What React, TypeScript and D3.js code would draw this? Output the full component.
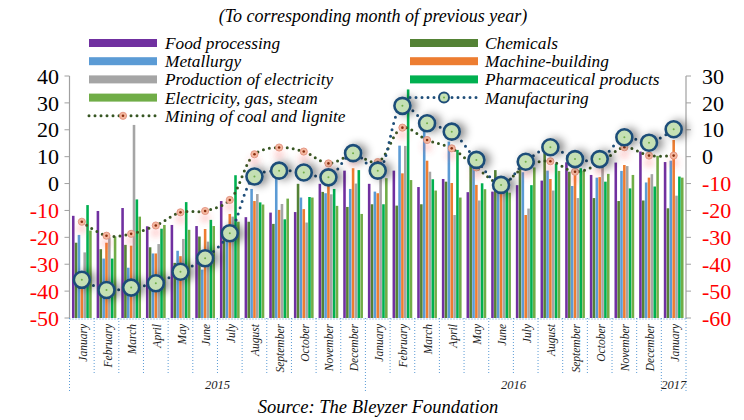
import React, { useEffect, useRef } from 'react';
import * as d3 from 'd3';

const months = [
  'January', 'February', 'March', 'April', 'May', 'June', 'July', 'August',
  'September', 'October', 'November', 'December',
  'January', 'February', 'March', 'April', 'May', 'June', 'July', 'August',
  'September', 'October', 'November', 'December',
  'January',
];
const yearLabels = ['2015', '2016', '2017'];
const yearMonthCounts = [12, 12, 1];

// bar series, left axis (% to corresponding month of previous year)
const foodProcessing = [-12.0, -10.2, -9.1, -15.9, -15.4, -15.8, -6.5, -12.5, -10.8, -10.6, -0.1, 4.8, -0.1, 4.8, -1.3, 1.7, -3.2, -3.0, -0.6, 1.1, 7.9, 3.2, 7.8, 11.9, 8.0];
const chemicals = [-22.0, -24.4, -22.8, -23.7, -29.5, -19.7, -19.0, -14.2, -15.0, -0.1, -3.1, -8.7, -7.7, -8.2, -7.7, 0.7, 8.8, 5.0, 7.5, 11.3, 4.4, -5.4, -6.5, -6.3, -9.2];
const metallurgy = [-19.1, -27.9, -31.3, -26.0, -25.0, -32.0, -17.0, -2.0, 4.0, -5.2, -3.6, -2.0, -3.0, 14.1, 19.3, 15.6, 7.5, -0.5, 4.2, 4.8, -0.9, 2.2, 4.7, 0.4, 8.5];
const machineBuilding = [-34.0, -22.0, -23.1, -26.0, -27.0, -16.9, -11.3, -6.5, -9.8, -9.5, 2.4, 5.7, -3.6, 3.8, 8.5, 0.2, -0.5, -1.8, -11.7, 1.7, 5.0, 2.4, 6.9, 2.2, 16.2];
const productionOfElectricity = [-25.6, -20.0, 21.8, -22.5, -20.6, -21.6, -12.3, -3.9, -7.6, -14.5, -4.0, 0.0, 3.2, 14.0, 4.4, -11.7, -6.3, -2.0, -9.3, -2.6, -5.4, 8.0, 6.5, 3.5, -4.5];
const pharmaceuticalProducts = [-8.0, -27.9, -5.9, -16.8, -6.9, -13.5, 3.1, -7.0, -13.3, -5.0, -2.0, 5.0, -7.7, 35.0, 1.6, 12.5, 0.1, -0.9, -0.6, 7.3, 5.7, 0.7, -1.8, -1.1, 2.6];
const electricityGasSteam = [-17.5, -19.7, -12.3, -15.4, -17.2, -15.8, -14.2, -7.8, -5.6, -5.2, -8.3, -11.3, 2.0, 1.3, -2.6, -5.2, -2.1, -3.4, 6.0, 4.7, 4.8, 3.6, 3.2, 10.3, 2.2];

// line series, right axis
const manufacturing = [-45.8, -49.6, -48.7, -47.1, -42.8, -37.8, -28.5, -7.4, -5.2, -5.9, -7.7, 1.3, -5.2, 18.9, 12.4, 9.3, -1.2, -10.5, -1.9, 3.5, -0.9, -0.9, 7.2, 5.2, 10.2];
const miningCoal = [-24.2, -29.4, -28.7, -25.6, -20.7, -20.2, -16.1, 0.9, 3.4, 1.9, -2.5, 0.6, -2.0, 10.8, 6.2, 3.1, -4.0, -10.0, -3.5, -1.7, -5.6, -2.5, 3.5, 0.4, 0.4];

const leftTicks = [40, 30, 20, 10, 0, -10, -20, -30, -40, -50];
const rightTicks = [30, 20, 10, 0, -10, -20, -30, -40, -50, -60];

const barSeries = [
  { name: 'Food processing', values: foodProcessing, color: '#7030A0' },
  { name: 'Chemicals', values: chemicals, color: '#548235' },
  { name: 'Metallurgy', values: metallurgy, color: '#5B9BD5' },
  { name: 'Machine-building', values: machineBuilding, color: '#ED7D31' },
  { name: 'Production of electricity', values: productionOfElectricity, color: '#A5A5A5' },
  { name: 'Pharmaceutical products', values: pharmaceuticalProducts, color: '#00B050' },
  { name: 'Electricity, gas, steam', values: electricityGasSteam, color: '#70AD47' },
];

const legendLeft = ['Food processing', 'Metallurgy', 'Production of electricity', 'Electricity, gas, steam'];
const legendRight = ['Chemicals', 'Machine-building', 'Pharmaceutical products'];

const W = 744;
const H = 420;
const SERIF = '"Liberation Serif", "Times New Roman", serif';

const BleyzerChart = () => {
  const svgRef = useRef<SVGSVGElement>(null);

  useEffect(() => {
    const svg = d3.select(svgRef.current);
    svg.selectAll('*').remove();

    const top = 76;
    const bottom = 318;
    const left = 69.5;
    const right = 686;

    const x = d3.scaleBand<number>()
      .domain(d3.range(months.length))
      .range([left, right])
      .paddingInner(0.2)
      .paddingOuter(0.1);
    const step = x.step();
    const xs = d3.scaleBand<number>()
      .domain(d3.range(barSeries.length))
      .range([0, x.bandwidth()])
      .paddingInner(0.1);

    const yL = d3.scaleLinear().domain([-50, 40]).range([bottom, top]);
    const yR = d3.scaleLinear().domain([-60, 30]).range([bottom, top]);
    const colorOf = (name: string) => barSeries.find(s => s.name === name)!.color;

    const defs = svg.append('defs');
    const sh = defs.append('filter').attr('id', 'mfgShadow')
      .attr('x', '-150%').attr('y', '-150%').attr('width', '400%').attr('height', '400%');
    sh.append('feGaussianBlur').attr('in', 'SourceAlpha').attr('stdDeviation', 4.5).attr('result', 'blur');
    sh.append('feOffset').attr('in', 'blur').attr('dx', 5).attr('dy', 0).attr('result', 'off');
    sh.append('feFlood').attr('flood-color', '#000').attr('flood-opacity', 0.45);
    sh.append('feComposite').attr('in2', 'off').attr('operator', 'in');
    const shm = sh.append('feMerge');
    shm.append('feMergeNode');
    shm.append('feMergeNode').attr('in', 'SourceGraphic');

    const gl = defs.append('filter').attr('id', 'minGlow')
      .attr('x', '-300%').attr('y', '-300%').attr('width', '700%').attr('height', '700%');
    gl.append('feGaussianBlur').attr('in', 'SourceAlpha').attr('stdDeviation', 3.5).attr('result', 'blur');
    gl.append('feOffset').attr('in', 'blur').attr('dx', 0).attr('dy', 7).attr('result', 'off');
    gl.append('feFlood').attr('flood-color', '#FF5050').attr('flood-opacity', 0.4);
    gl.append('feComposite').attr('in2', 'off').attr('operator', 'in');
    const glm = gl.append('feMerge');
    glm.append('feMergeNode');
    glm.append('feMergeNode').attr('in', 'SourceGraphic');

    // title
    svg.append('text')
      .attr('x', 373).attr('y', 22)
      .attr('text-anchor', 'middle')
      .style('font-family', SERIF).style('font-style', 'italic').style('font-size', '18px')
      .text('(To corresponding month of previous year)');

    // bars
    const groups = svg.append('g').selectAll('g')
      .data(months.map((m, i) => i))
      .enter().append('g')
      .attr('transform', i => `translate(${x(i)},0)`);
    groups.selectAll('rect')
      .data(i => barSeries.map((s, k) => ({ k, v: s.values[i], color: s.color })))
      .enter().append('rect')
      .attr('x', d => xs(d.k)!)
      .attr('width', xs.bandwidth())
      .attr('y', d => yL(d.v))
      .attr('height', d => yL(-50) - yL(d.v))
      .attr('fill', d => d.color);

    // axes
    const axisColor = '#A0A0A0';
    svg.append('line').attr('x1', left).attr('x2', left).attr('y1', top).attr('y2', bottom)
      .attr('stroke', axisColor).attr('stroke-width', 1.2);
    svg.append('line').attr('x1', right).attr('x2', right).attr('y1', top).attr('y2', bottom)
      .attr('stroke', axisColor).attr('stroke-width', 1.2);
    leftTicks.forEach(t => {
      svg.append('line').attr('x1', left - 5).attr('x2', left).attr('y1', yL(t)).attr('y2', yL(t))
        .attr('stroke', axisColor);
      svg.append('text')
        .attr('x', 59).attr('y', yL(t)).attr('dy', '0.35em')
        .attr('text-anchor', 'end')
        .attr('fill', t < 0 ? '#FF0000' : '#000')
        .style('font-family', SERIF).style('font-size', '22px')
        .text(t);
    });
    rightTicks.forEach(t => {
      svg.append('line').attr('x1', right).attr('x2', right + 5).attr('y1', yR(t)).attr('y2', yR(t))
        .attr('stroke', axisColor);
      svg.append('text')
        .attr('x', 702).attr('y', yR(t)).attr('dy', '0.35em')
        .attr('text-anchor', 'start')
        .attr('fill', t < 0 ? '#FF0000' : '#000')
        .style('font-family', SERIF).style('font-size', '22px')
        .text(t);
    });

    // category axis
    const sepColor = '#5B9BD5';
    svg.append('line').attr('x1', left).attr('x2', right).attr('y1', bottom + 1).attr('y2', bottom + 1)
      .attr('stroke', sepColor).attr('stroke-dasharray', '1 2');
    const yearEdges = [0];
    yearMonthCounts.forEach(c => yearEdges.push(yearEdges[yearEdges.length - 1] + c));
    d3.range(months.length + 1).forEach(i => {
      const xx = left + i * step;
      const isYear = yearEdges.includes(i);
      svg.append('line').attr('x1', xx).attr('x2', xx)
        .attr('y1', bottom).attr('y2', isYear ? 393 : 373)
        .attr('stroke', sepColor).attr('stroke-width', 1).attr('stroke-dasharray', '1 2');
    });
    months.forEach((m, i) => {
      const cx = x(i)! + x.bandwidth() / 2 + 1;
      svg.append('text')
        .attr('transform', `translate(${cx},324) rotate(-90)`)
        .attr('text-anchor', 'end')
        .attr('dy', '0.35em')
        .attr('fill', '#222')
        .style('font-family', SERIF).style('font-style', 'italic').style('font-size', '11.5px')
        .text(m);
    });
    yearLabels.forEach((yl, k) => {
      const cx = left + step * (yearEdges[k] + yearEdges[k + 1]) / 2;
      svg.append('text')
        .attr('x', cx).attr('y', 389)
        .attr('text-anchor', 'middle')
        .attr('fill', '#222')
        .style('font-family', SERIF).style('font-style', 'italic').style('font-size', '12.5px')
        .text(yl);
    });

    // lines
    const cxOf = (i: number) => x(i)! + x.bandwidth() / 2;
    const line = d3.line<number>()
      .x((d, i) => cxOf(i))
      .y(d => yR(d))
      .curve(d3.curveCatmullRom.alpha(0.5));

    svg.append('path')
      .attr('d', line(miningCoal))
      .attr('fill', 'none')
      .attr('stroke', '#375623').attr('stroke-width', 3)
      .attr('stroke-linecap', 'round').attr('stroke-dasharray', '0 6');
    svg.append('path')
      .attr('d', line(manufacturing))
      .attr('fill', 'none')
      .attr('stroke', '#1F4E79').attr('stroke-width', 3)
      .attr('stroke-linecap', 'round').attr('stroke-dasharray', '0 6.5');

    const miningMarker = (g: any, cx: number, cy: number, glow: boolean) => {
      const m = g.append('g').attr('filter', glow ? 'url(#minGlow)' : null);
      m.append('circle').attr('cx', cx).attr('cy', cy).attr('r', 3.6)
        .attr('fill', '#F4B8A0').attr('stroke', '#E08A78').attr('stroke-width', 0.8);
      m.append('circle').attr('cx', cx).attr('cy', cy).attr('r', 1.3).attr('fill', '#8B2E10');
    };
    const mfgMarker = (g: any, cx: number, cy: number, r: number, shadow: boolean) => {
      const m = g.append('g').attr('filter', shadow ? 'url(#mfgShadow)' : null);
      m.append('circle').attr('cx', cx).attr('cy', cy).attr('r', r)
        .attr('fill', '#C5E0B4').attr('stroke', '#1F4E79').attr('stroke-width', r > 6 ? 2.6 : 2);
      m.append('circle').attr('cx', cx).attr('cy', cy).attr('r', 1).attr('fill', '#70AD47');
    };

    const mg = svg.append('g');
    miningCoal.forEach((v, i) => miningMarker(mg, cxOf(i), yR(v), true));
    const fg = svg.append('g');
    manufacturing.forEach((v, i) => mfgMarker(fg, cxOf(i), yR(v), 8, true));

    // legend
    const legend = svg.append('g');
    const rowY = (r: number) => 43 + r * 18.2;
    const addLabel = (tx: number, ty: number, label: string) => {
      legend.append('text')
        .attr('x', tx).attr('y', ty).attr('dy', '0.35em')
        .style('font-family', SERIF).style('font-style', 'italic').style('font-size', '17.3px')
        .text(label);
    };
    legendLeft.forEach((name, r) => {
      legend.append('rect').attr('x', 89).attr('y', rowY(r) - 4).attr('width', 68).attr('height', 8)
        .attr('fill', colorOf(name));
      addLabel(165, rowY(r), name);
    });
    legendRight.forEach((name, r) => {
      legend.append('rect').attr('x', 410).attr('y', rowY(r) - 4).attr('width', 68).attr('height', 8)
        .attr('fill', colorOf(name));
      addLabel(485, rowY(r), name);
    });
    legend.append('line').attr('x1', 410).attr('x2', 478).attr('y1', rowY(3)).attr('y2', rowY(3))
      .attr('stroke', '#1F4E79').attr('stroke-width', 3)
      .attr('stroke-linecap', 'round').attr('stroke-dasharray', '0 6');
    mfgMarker(legend, 444, rowY(3), 5, false);
    addLabel(485, rowY(3), 'Manufacturing');
    legend.append('line').attr('x1', 89).attr('x2', 157).attr('y1', rowY(4)).attr('y2', rowY(4))
      .attr('stroke', '#375623').attr('stroke-width', 3)
      .attr('stroke-linecap', 'round').attr('stroke-dasharray', '0 6');
    miningMarker(legend, 123, rowY(4), false);
    addLabel(165, rowY(4), 'Mining of coal and lignite');

    // source
    svg.append('text')
      .attr('x', 378).attr('y', 413)
      .attr('text-anchor', 'middle')
      .style('font-family', SERIF).style('font-style', 'italic').style('font-size', '18.5px')
      .text('Source: The Bleyzer Foundation');
  }, []);

  return (
    <svg
      ref={svgRef}
      width={W}
      height={H}
      style={{ position: 'absolute', left: 0, top: 0, background: '#fff' }}
    />
  );
};

export default function App() {
  return <BleyzerChart />;
}
